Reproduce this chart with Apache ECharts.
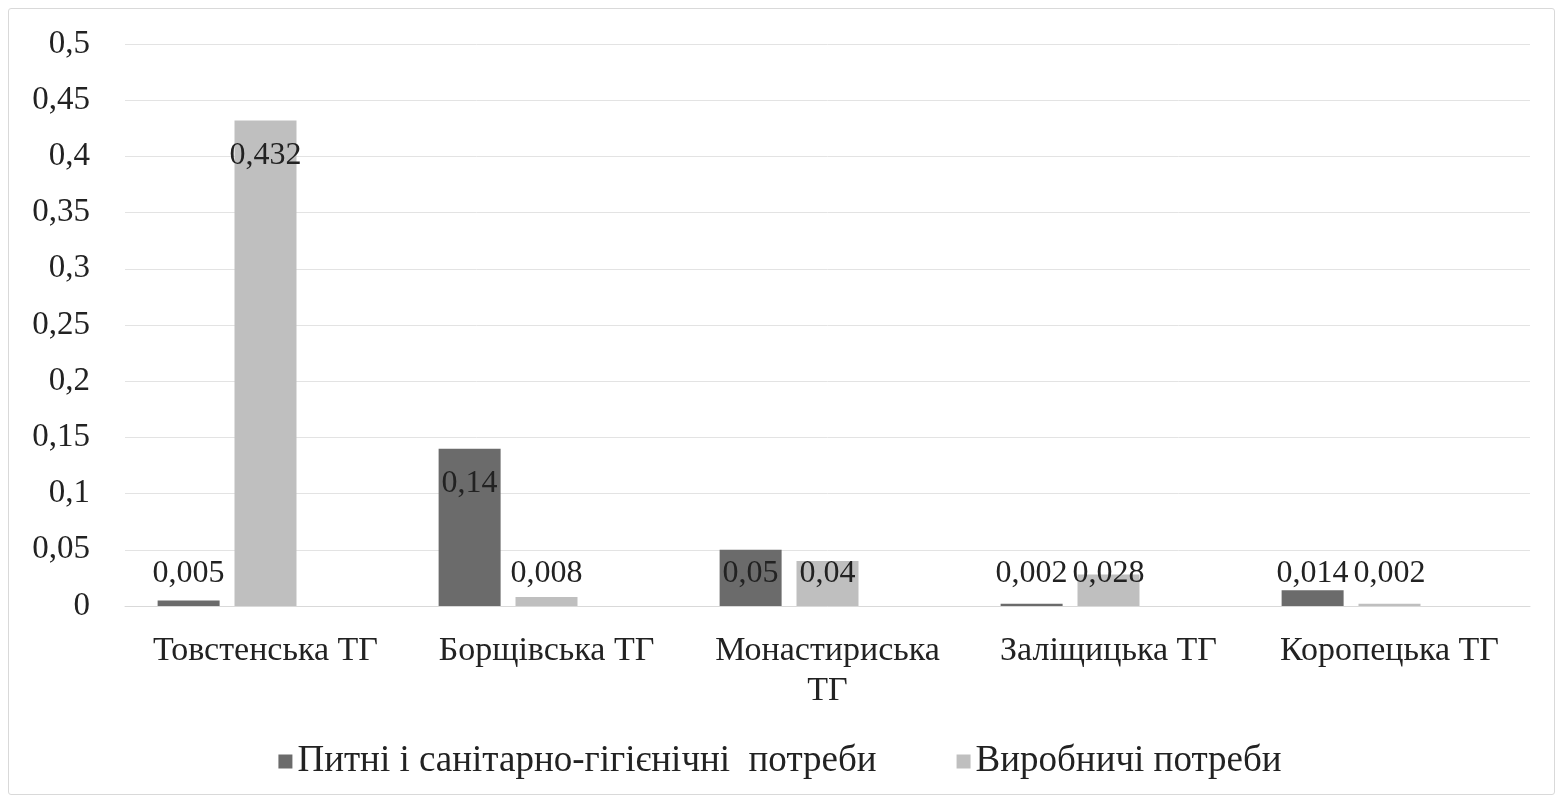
<!DOCTYPE html>
<html>
<head>
<meta charset="utf-8" />
<title>Водокористування</title>
<script src="https://cdn.jsdelivr.net/npm/echarts@6/dist/echarts.min.js"></script>
<style>
  html, body { margin: 0; padding: 0; background: #fff; }
  #frame { position: absolute; left: 8px; top: 8px; width: 1545px; height: 785px;
           border: 1px solid #d9d9d9; border-radius: 3px; }
  #chart { position: absolute; left: 0; top: 0; width: 1560px; height: 801px; }
</style>
</head>
<body>
<div id="frame"></div>
<div id="chart"></div>
<script type="text/javascript">
// категорії (громади)
var categories = ['Товстенська ТГ', 'Борщівська ТГ', 'Монастириська ТГ', 'Заліщицька ТГ', 'Коропецька ТГ'];
// ряди даних
var drinkName = 'Питні і санітарно-гігієнічні  потреби';
var drinkValues = [0.005, 0.14, 0.05, 0.002, 0.014];
var prodName = 'Виробничі потреби';
var prodValues = [0.432, 0.008, 0.04, 0.028, 0.002];
// порожній третій ряд (як в оригіналі, тримає місце у групі)
var spareValues = [];
// підписи осі y
var yTicks = [0, 0.05, 0.1, 0.15, 0.2, 0.25, 0.3, 0.35, 0.4, 0.45, 0.5];

var serif = '"Liberation Serif", "Times New Roman", serif';

function fmt(v) {
  return String(+(+v).toFixed(3)).replace('.', ',');
}

// підпис всередині стовпця, якщо він високий, інакше над віссю
function withLabels(values) {
  return values.map(function (v) {
    if (v > 0.1) {
      return { value: v, label: { position: 'insideTop', distance: 19 } };
    }
    return { value: v, label: { position: 'insideBottom', distance: 16 } };
  });
}

var myChart = echarts.init(document.getElementById('chart'));
var labelStyle = {
  show: true,
  color: '#222',
  fontFamily: serif,
  fontSize: 32,
  formatter: function (p) { return fmt(p.value); }
};
var option = {
  animation: false,
  color: ['#6b6b6b', '#bfbfbf', '#999'],
  grid: { left: 125, right: 30, top: 44, bottom: 195 },
  legend: {
    data: [drinkName, prodName],
    bottom: 16,
    left: 'center',
    icon: 'rect',
    itemWidth: 14,
    itemHeight: 14,
    itemGap: 80,
    textStyle: { fontFamily: serif, fontSize: 37, color: '#222' }
  },
  xAxis: {
    type: 'category',
    data: categories,
    axisLine: { lineStyle: { color: '#d9d9d9' } },
    axisTick: { show: false },
    axisLabel: {
      interval: 0,
      margin: 25,
      color: '#222',
      fontFamily: serif,
      fontSize: 34,
      lineHeight: 40,
      formatter: function (name) {
        // довгу назву переносимо на два рядки
        if (name.length > 15) {
          var i = name.lastIndexOf(' ');
          return name.slice(0, i) + '\n' + name.slice(i + 1);
        }
        return name;
      }
    }
  },
  yAxis: {
    type: 'value',
    min: yTicks[0],
    max: yTicks[yTicks.length - 1],
    interval: 0.05,
    axisLine: { show: false },
    axisTick: { show: false },
    splitLine: { lineStyle: { color: '#e3e3e3' } },
    axisLabel: {
      margin: 35,
      color: '#222',
      fontFamily: serif,
      fontSize: 33,
      formatter: function (v) { return fmt(v); }
    }
  },
  series: [{
    name: drinkName,
    type: 'bar',
    barWidth: 62,
    barGap: '24%',
    label: labelStyle,
    data: withLabels(drinkValues)
  }, {
    name: prodName,
    type: 'bar',
    barWidth: 62,
    barGap: '24%',
    label: labelStyle,
    data: withLabels(prodValues)
  }, {
    name: 'Ряд3',
    type: 'bar',
    barWidth: 62,
    barGap: '24%',
    data: spareValues
  }]
};
myChart.setOption(option);
</script>
</body>
</html>
